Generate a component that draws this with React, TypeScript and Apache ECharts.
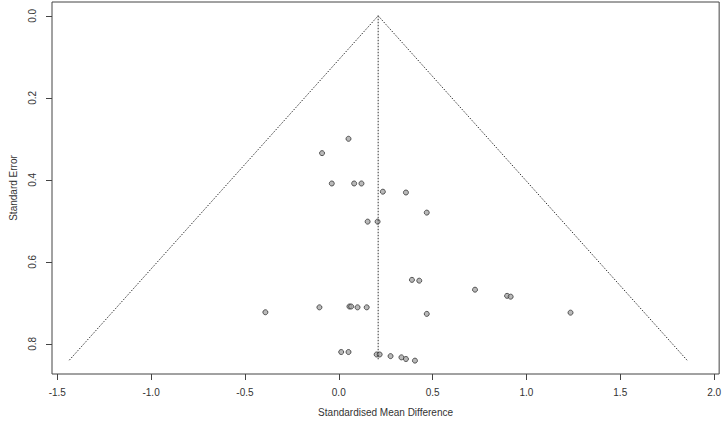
import React, { useEffect, useRef } from "react";
import * as echarts from "echarts";

// Study estimates (standardised mean difference) and standard errors
const smd = [
  0.052, -0.089, -0.037, 0.082, 0.121, 0.235, 0.358, 0.469, 0.154, 0.207,
  0.390, 0.429, 0.726, 0.897, 0.916, -0.391, -0.103, 0.057, 0.066, 0.100,
  0.149, 0.469, 1.235, 0.013, 0.052, 0.202, 0.218, 0.276, 0.334, 0.358, 0.406,
];
const se = [
  0.300, 0.335, 0.409, 0.409, 0.409, 0.429, 0.431, 0.480, 0.502, 0.502,
  0.644, 0.646, 0.668, 0.683, 0.685, 0.723, 0.711, 0.709, 0.709, 0.711,
  0.711, 0.727, 0.724, 0.820, 0.820, 0.826, 0.826, 0.830, 0.833, 0.837, 0.841,
];

// Funnel (pseudo 95% CI) and pooled estimate line
const funnelX = [-1.436, 0.21, 1.856];
const funnelY = [0.84, 0.0, 0.84];
const pooledX = [0.21, 0.21];
const pooledY = [0.0, 0.84];

const xTicks = [-1.5, -1.0, -0.5, 0.0, 0.5, 1.0, 1.5, 2.0];
const yTicks = [0.0, 0.2, 0.4, 0.6, 0.8];

const FONT = "Liberation Sans, Arial, sans-serif";
const TXT = "#333";

export default function App() {
  const ref = useRef<HTMLDivElement>(null);
  useEffect(() => {
    if (!ref.current) return;
    const chart = echarts.init(ref.current, undefined, { renderer: "svg" });
    chart.setOption({
      animation: false,
      backgroundColor: "#ffffff",
      grid: {
        left: 47,
        right: 3,
        top: 2,
        bottom: 48,
        show: true,
        borderColor: "#444",
        borderWidth: 1,
        backgroundColor: "transparent",
      },
      xAxis: {
        type: "value",
        min: -1.528,
        max: 2.027,
        name: "Standardised Mean Difference",
        nameLocation: "middle",
        nameGap: 33,
        nameTextStyle: { fontFamily: FONT, fontSize: 10, color: TXT },
        axisLine: { show: false, onZero: false },
        splitLine: { show: false },
        axisTick: {
          show: true,
          inside: false,
          length: 6,
          customValues: xTicks,
          lineStyle: { color: "#444" },
        },
        axisLabel: {
          customValues: xTicks,
          margin: 13,
          fontFamily: FONT,
          fontSize: 10,
          color: TXT,
          formatter: (v: number) => v.toFixed(1),
        },
      },
      yAxis: {
        type: "value",
        inverse: true,
        min: -0.0336,
        max: 0.8736,
        name: "Standard Error",
        nameLocation: "middle",
        nameGap: 34,
        nameRotate: 90,
        nameTextStyle: { fontFamily: FONT, fontSize: 10, color: TXT },
        axisLine: { show: false, onZero: false },
        splitLine: { show: false },
        axisTick: {
          show: true,
          inside: false,
          length: 6,
          customValues: yTicks,
          lineStyle: { color: "#444" },
        },
        axisLabel: {
          customValues: yTicks,
          rotate: 90,
          margin: 15,
          fontFamily: FONT,
          fontSize: 10,
          color: TXT,
          formatter: (v: number) => v.toFixed(1),
        },
      },
      series: [
        {
          type: "line",
          data: funnelX.map((x, i) => [x, funnelY[i]]),
          symbol: "none",
          lineStyle: { type: [1.5, 1.5], width: 1, color: "#333" },
          silent: true,
        },
        {
          type: "line",
          data: pooledX.map((x, i) => [x, pooledY[i]]),
          symbol: "none",
          lineStyle: { type: [1.5, 1.5], width: 1, color: "#333" },
          silent: true,
        },
        {
          type: "scatter",
          data: smd.map((x, i) => [x, se[i]]),
          symbol: "circle",
          symbolSize: 5,
          itemStyle: { color: "#a8a8a8", borderColor: "#333", borderWidth: 1 },
        },
      ],
    });
    return () => chart.dispose();
  }, []);
  return (
    <div
      ref={ref}
      style={{ position: "fixed", left: 0, top: 0, width: 724, height: 422, background: "#fff" }}
    />
  );
}
